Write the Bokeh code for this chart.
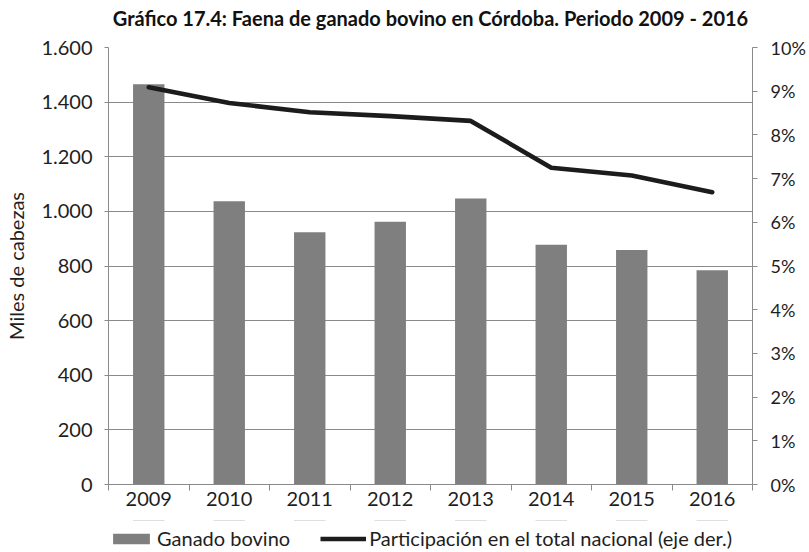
from bokeh.plotting import figure
from bokeh.layouts import column
from bokeh.models import Range1d, LinearAxis, FixedTicker, Legend, LegendItem, Label
from bokeh.embed import file_html
from bokeh.resources import INLINE

years = [2009, 2010, 2011, 2012, 2013, 2014, 2015, 2016]
faena = [1465, 1037, 924, 962, 1047, 878, 859, 784]
participacion = [9.09, 8.73, 8.52, 8.43, 8.32, 7.25, 7.07, 6.69]
left_ticks = [0, 200, 400, 600, 800, 1000, 1200, 1400, 1600]
left_tick_labels = ["0", "200", "400", "600", "800", "1.000", "1.200", "1.400", "1.600"]
right_ticks = [0, 1, 2, 3, 4, 5, 6, 7, 8, 9, 10]
right_tick_labels = ["0%", "1%", "2%", "3%", "4%", "5%", "6%", "7%", "8%", "9%", "10%"]
year_labels = ["2009", "2010", "2011", "2012", "2013", "2014", "2015", "2016"]
title_text = "Gráfico 17.4: Faena de ganado bovino en Córdoba. Periodo 2009 - 2016"
y_label = "Miles de cabezas"
legend_labels = ["Ganado bovino", "Participación en el total nacional (eje der.)"]

FONT = "Lato"
GRAY = "#8a8a8a"
TXT = "#1e1e1e"
BAR_COLOR = "#7f7f7f"
LINE_COLOR = "#1c1c1c"


def strip(height, x_range, y_range):
    s = figure(width=809, height=height, x_range=x_range, y_range=y_range,
               x_axis_location=None, y_axis_location=None, title=None,
               output_backend="svg", toolbar_location=None,
               min_border_left=0, min_border_right=0, min_border_top=0, min_border_bottom=0)
    s.outline_line_color = None
    s.xgrid.visible = False
    s.ygrid.visible = False
    return s


# title strip
top = strip(35, Range1d(0, 1), Range1d(0, 1))
top.add_layout(Label(x=0.5, y=0.5, text=title_text, text_align="center", text_baseline="middle",
                     text_font=FONT, text_font_size="20px", text_font_style="bold",
                     text_color="#111111"))

# main chart
p = figure(frame_width=644, frame_height=437, title=None,
           x_range=Range1d(years[0] - 0.5, years[-1] + 0.5),
           y_range=Range1d(left_ticks[0], left_ticks[-1]),
           output_backend="svg", toolbar_location=None,
           min_border_left=108, min_border_right=57,
           min_border_top=12, min_border_bottom=36)
p.extra_y_ranges = {"pct": Range1d(right_ticks[0], right_ticks[-1])}
p.outline_line_color = None
p.background_fill_color = "white"
p.border_fill_color = "white"

p.xgrid.visible = False
p.ygrid.ticker = FixedTicker(ticks=left_ticks)
p.ygrid.grid_line_color = GRAY
p.ygrid.grid_line_width = 1

p.vbar(x=years, top=faena, width=0.39, fill_color=BAR_COLOR, line_color=None)
p.line(years, participacion, y_range_name="pct", line_width=4.6,
       line_color=LINE_COLOR, line_join="round", line_cap="round")

xa = p.xaxis[0]
xa.ticker = FixedTicker(ticks=years, minor_ticks=[y - 0.5 for y in years] + [years[-1] + 0.5])
xa.major_label_overrides = {y: l for y, l in zip(years, year_labels)}
xa.major_tick_line_color = None
xa.major_tick_out = 0
xa.major_tick_in = 0
xa.minor_tick_out = 6
xa.minor_tick_in = 0
xa.minor_tick_line_color = GRAY
xa.axis_line_color = GRAY
xa.major_label_standoff = 1

ya = p.yaxis[0]
ya.ticker = FixedTicker(ticks=left_ticks)
ya.major_label_overrides = {t: l for t, l in zip(left_ticks, left_tick_labels)}
ya.major_tick_out = 4
ya.major_tick_in = 0
ya.major_tick_line_color = GRAY
ya.minor_tick_line_color = None
ya.axis_line_color = GRAY
ya.major_label_standoff = 12
ya.axis_label = y_label
ya.axis_label_text_font_style = "normal"
ya.axis_label_standoff = 10

ra = LinearAxis(y_range_name="pct", ticker=FixedTicker(ticks=right_ticks))
ra.major_label_overrides = {t: l for t, l in zip(right_ticks, right_tick_labels)}
ra.major_tick_out = 5
ra.major_tick_in = 0
ra.major_tick_line_color = GRAY
ra.minor_tick_line_color = None
ra.axis_line_color = GRAY
ra.major_label_standoff = 13
p.add_layout(ra, "right")

for ax in [xa, ya, ra]:
    ax.major_label_text_font = FONT
    ax.major_label_text_font_size = "20px"
    ax.major_label_text_color = TXT
    ax.axis_label_text_font = FONT
    ax.axis_label_text_font_size = "20px"
    ax.axis_label_text_color = TXT
ra.major_label_text_font_size = "18px"

# legend strip below the chart: its renderers lie entirely above its own y range,
# so only the legend entries are visible
lg = strip(32, Range1d(years[0] - 0.5, years[-1] + 0.5), Range1d(-2, -1))
lg_bar = lg.vbar(x=years, top=faena, width=0.39, fill_color=BAR_COLOR, line_color=None)
lg_line = lg.line(x=years, y=participacion, line_width=4.6, line_color=LINE_COLOR)
legend = Legend(items=[LegendItem(label=legend_labels[0], renderers=[lg_bar]),
                       LegendItem(label=legend_labels[1], renderers=[lg_line])],
                orientation="horizontal", location=(0, 2),
                padding=0, margin=0, spacing=30, glyph_width=46, glyph_height=13,
                label_height=22, label_standoff=3,
                border_line_color=None, background_fill_alpha=0,
                label_text_font=FONT, label_text_font_size="20px", label_text_color=TXT)
lg.add_layout(legend)

layout = column(top, p, lg, spacing=0)
open("out.html", "w").write(file_html(layout, INLINE))
